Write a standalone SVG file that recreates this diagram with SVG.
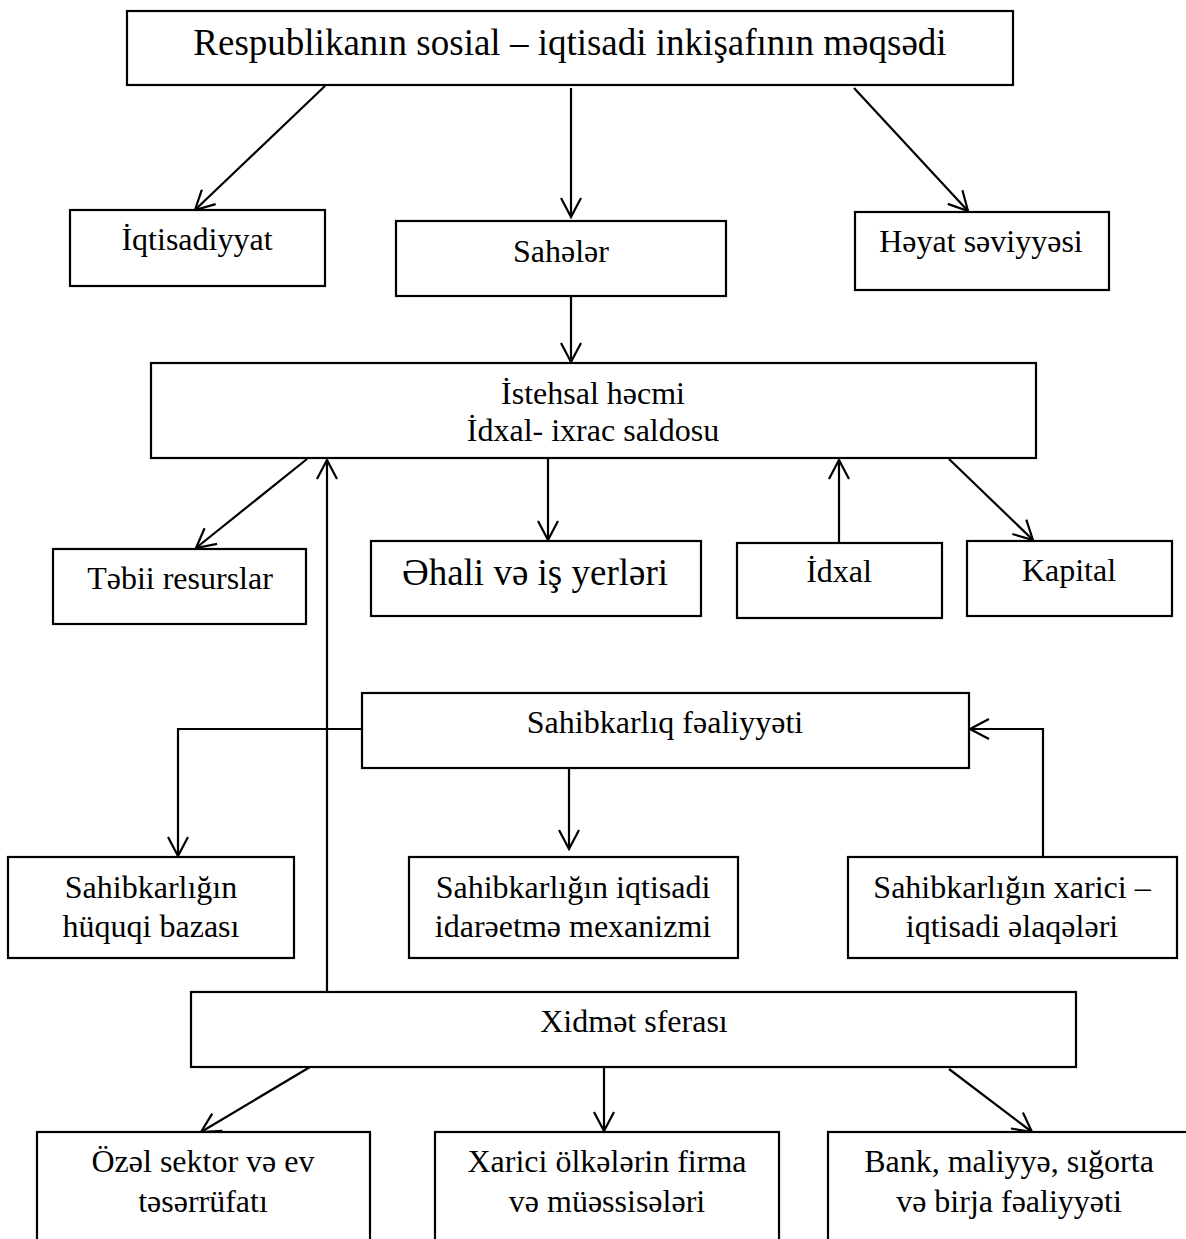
<svg xmlns="http://www.w3.org/2000/svg" width="1186" height="1239" viewBox="0 0 1186 1239">
<style>
.box{fill:#fff;stroke:#000;stroke-width:2.2}
.t{font-family:"Liberation Serif","DejaVu Serif",serif;font-size:32px;fill:#000;text-anchor:middle}
.big{font-size:37px}
.c{fill:none;stroke:#000;stroke-width:2.2}
</style>
<defs>
<marker id="ah" viewBox="0 0 22 22" refX="20" refY="11" markerWidth="22" markerHeight="22" markerUnits="userSpaceOnUse" orient="auto">
<path d="M1,1 L20,11 L1,21" fill="none" stroke="#000" stroke-width="2.2"/>
</marker>
</defs>
<rect width="1186" height="1239" fill="#fff"/>
<g id="connectors">
<line class="c" x1="325" y1="86" x2="195" y2="210" marker-end="url(#ah)"/>
<line class="c" x1="571" y1="88" x2="571" y2="217" marker-end="url(#ah)"/>
<line class="c" x1="854" y1="88" x2="968" y2="211" marker-end="url(#ah)"/>
<line class="c" x1="571" y1="297" x2="571" y2="362" marker-end="url(#ah)"/>
<line class="c" x1="307" y1="459" x2="196" y2="548" marker-end="url(#ah)"/>
<line class="c" x1="548" y1="459" x2="548" y2="540" marker-end="url(#ah)"/>
<line class="c" x1="839" y1="543" x2="839" y2="460" marker-end="url(#ah)"/>
<line class="c" x1="949" y1="459" x2="1033" y2="540" marker-end="url(#ah)"/>
<line class="c" x1="327" y1="992" x2="327" y2="460" marker-end="url(#ah)"/>
<polyline class="c" points="362,729 178,729 178,856" marker-end="url(#ah)"/>
<line class="c" x1="569" y1="768" x2="569" y2="849" marker-end="url(#ah)"/>
<polyline class="c" points="1043,857 1043,729 970,729" marker-end="url(#ah)"/>
<line class="c" x1="310" y1="1067" x2="201" y2="1132" marker-end="url(#ah)"/>
<line class="c" x1="604" y1="1067" x2="604" y2="1131" marker-end="url(#ah)"/>
<line class="c" x1="949" y1="1069" x2="1032" y2="1132" marker-end="url(#ah)"/>
</g>
<g id="n-title"><rect class="box" x="127" y="11" width="886" height="74"/><text class="t big" x="570" y="55">Respublikanın sosial – iqtisadi inkişafının məqsədi</text></g>
<g id="n-iqtisadiyyat"><rect class="box" x="70" y="210" width="255" height="76"/><text class="t" x="197" y="250">İqtisadiyyat</text></g>
<g id="n-saheler"><rect class="box" x="396" y="221" width="330" height="75"/><text class="t" x="561" y="262">Sahələr</text></g>
<g id="n-heyat"><rect class="box" x="855" y="212" width="254" height="78"/><text class="t" x="981" y="252">Həyat səviyyəsi</text></g>
<g id="n-istehsal"><rect class="box" x="151" y="363" width="885" height="95"/><text class="t" x="593" y="404">İstehsal həcmi</text><text class="t" x="593" y="441">İdxal- ixrac saldosu</text></g>
<g id="n-tebii"><rect class="box" x="53" y="549" width="253" height="75"/><text class="t" x="180" y="589">Təbii resurslar</text></g>
<g id="n-ehali"><rect class="box" x="371" y="541" width="330" height="75"/><text class="t big" x="535" y="585">Əhali və iş yerləri</text></g>
<g id="n-idxal"><rect class="box" x="737" y="543" width="205" height="75"/><text class="t" x="839" y="582">İdxal</text></g>
<g id="n-kapital"><rect class="box" x="967" y="541" width="205" height="75"/><text class="t" x="1069" y="581">Kapital</text></g>
<g id="n-sahibkarliq"><rect class="box" x="362" y="693" width="607" height="75"/><text class="t" x="665" y="733">Sahibkarlıq fəaliyyəti</text></g>
<g id="n-huquqi"><rect class="box" x="8" y="857" width="286" height="101"/><text class="t" x="151" y="898">Sahibkarlığın</text><text class="t" x="151" y="937">hüquqi bazası</text></g>
<g id="n-idareetme"><rect class="box" x="409" y="857" width="329" height="101"/><text class="t" x="573" y="898">Sahibkarlığın iqtisadi</text><text class="t" x="573" y="937">idarəetmə mexanizmi</text></g>
<g id="n-xarici"><rect class="box" x="848" y="857" width="329" height="101"/><text class="t" x="1012" y="898">Sahibkarlığın xarici –</text><text class="t" x="1012" y="937">iqtisadi əlaqələri</text></g>
<g id="n-xidmet"><rect class="box" x="191" y="992" width="885" height="75"/><text class="t" x="634" y="1032">Xidmət sferası</text></g>
<g id="n-ozel"><rect class="box" x="37" y="1132" width="333" height="130"/><text class="t" x="203" y="1172">Özəl sektor və ev</text><text class="t" x="203" y="1212">təsərrüfatı</text></g>
<g id="n-xarici-olkeler"><rect class="box" x="435" y="1132" width="344" height="130"/><text class="t" x="607" y="1172">Xarici ölkələrin firma</text><text class="t" x="607" y="1212">və müəssisələri</text></g>
<g id="n-bank"><rect class="box" x="828" y="1132" width="364" height="130"/><text class="t" x="1009" y="1172">Bank, maliyyə, sığorta</text><text class="t" x="1009" y="1212">və birja fəaliyyəti</text></g>
</svg>
